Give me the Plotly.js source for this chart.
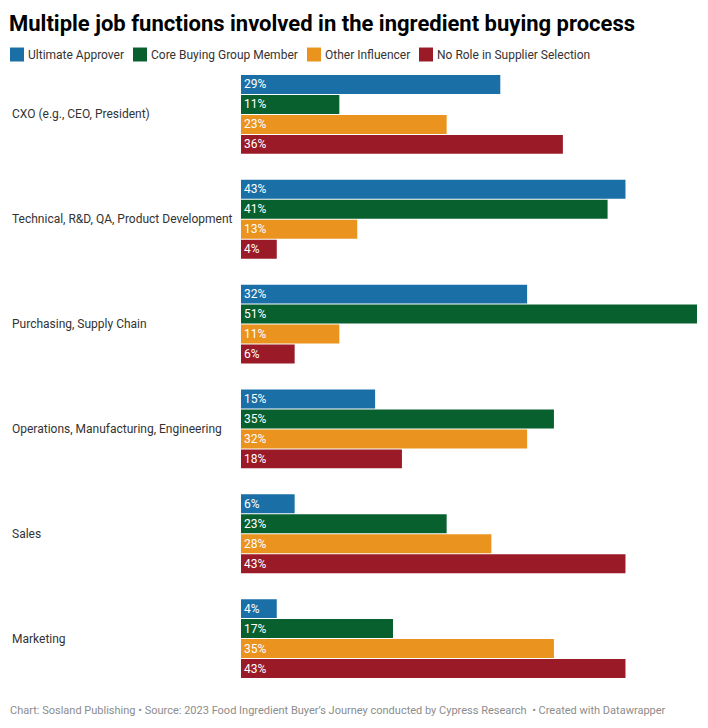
<!DOCTYPE html>
<html>
<head>
<meta charset="utf-8">
<script src="https://cdn.plot.ly/plotly-3.0.1.min.js"></script>
<style>html,body{margin:0;padding:0;background:#fff;}#chart{width:708px;height:728px;}</style>
</head>
<body>
<div id="chart"></div>
<script>
const categories = ["CXO (e.g., CEO, President)", "Technical, R&D, QA, Product Development", "Purchasing, Supply Chain", "Operations, Manufacturing, Engineering", "Sales", "Marketing"];
const seriesNames = ["Ultimate Approver", "Core Buying Group Member", "Other Influencer", "No Role in Supplier Selection"];
const ultimateApprover = [29, 43, 32, 15, 6, 4];
const coreBuyingGroup = [11, 41, 51, 35, 23, 17];
const otherInfluencer = [23, 13, 11, 32, 28, 35];
const noRole = [36, 4, 6, 18, 43, 43];
const colors = ["#1a6fa7", "#08602f", "#ea931f", "#9a1a28"];

const seriesValues = [ultimateApprover, coreBuyingGroup, otherInfluencer, noRole];
const FONT = "Roboto, 'Liberation Sans', sans-serif";

// plot area geometry (px)
const PL = 241, PW = 456, PT = 61.5, PH = 630;
const px2x = p => (p - PL) / PW;
const py2y = p => (PT + PH - p) / PH;

const traces = seriesValues.map((vals, i) => ({
  type: "bar",
  orientation: "h",
  name: seriesNames[i],
  y: categories,
  x: vals,
  marker: {color: colors[i], line: {width: 0}},
  text: vals.map(v => v + "%"),
  textposition: "inside",
  insidetextanchor: "start",
  textangle: 0,
  constraintext: "none",
  insidetextfont: {color: "#ffffff", size: 12, family: FONT},
  hoverinfo: "skip",
  showlegend: false
}));

const annotations = categories.map(c => ({
  xref: "paper", yref: "y",
  x: px2x(10), y: c,
  xanchor: "left", yanchor: "middle",
  text: c, showarrow: false,
  font: {family: FONT, size: 12, color: "#333333"}
}));

// manual legend
const legendSwatchX = [10, 133, 307, 419];
const shapes = [];
seriesNames.forEach((n, i) => {
  const x0 = legendSwatchX[i];
  shapes.push({
    type: "rect", xref: "paper", yref: "paper",
    x0: px2x(x0), x1: px2x(x0 + 14), y0: py2y(61), y1: py2y(47),
    fillcolor: colors[i], line: {width: 0}
  });
  annotations.push({
    xref: "paper", yref: "paper",
    x: px2x(x0 + 16), y: py2y(54),
    xanchor: "left", yanchor: "middle",
    text: n, showarrow: false,
    font: {family: FONT, size: 12, color: "#333333"}
  });
});

annotations.push({
  xref: "paper", yref: "paper",
  x: px2x(8), y: py2y(711),
  xanchor: "left", yanchor: "middle",
  text: "Chart: Sosland Publishing • Source: 2023 Food Ingredient Buyer’s Journey conducted by Cypress Research  • Created with Datawrapper",
  showarrow: false,
  font: {family: FONT, size: 11, color: "#8c8c8c"}
});

const layout = {
  width: 708, height: 728,
  paper_bgcolor: "#ffffff", plot_bgcolor: "#ffffff",
  margin: {l: PL, r: 708 - PL - PW, t: PT, b: 728 - PT - PH, pad: 0},
  title: {
    text: "<b>Multiple job functions involved in the ingredient buying process</b>",
    font: {family: FONT, size: 22, color: "#000000"},
    x: 9 / 708, xanchor: "left", xref: "container",
    y: 1 - 23 / 728, yanchor: "middle", yref: "container"
  },
  barmode: "group",
  bargap: 0.238,
  bargroupgap: 0.05,
  showlegend: false,
  xaxis: {range: [0, 51], visible: false, fixedrange: true},
  yaxis: {
    type: "category", autorange: false, range: [5.5, -0.5],
    showticklabels: false, showgrid: false, zeroline: false, showline: false, ticks: ""
  },
  shapes: shapes,
  annotations: annotations
};

Plotly.newPlot("chart", traces, layout, {displayModeBar: false, staticPlot: true});
</script>
</body>
</html>
